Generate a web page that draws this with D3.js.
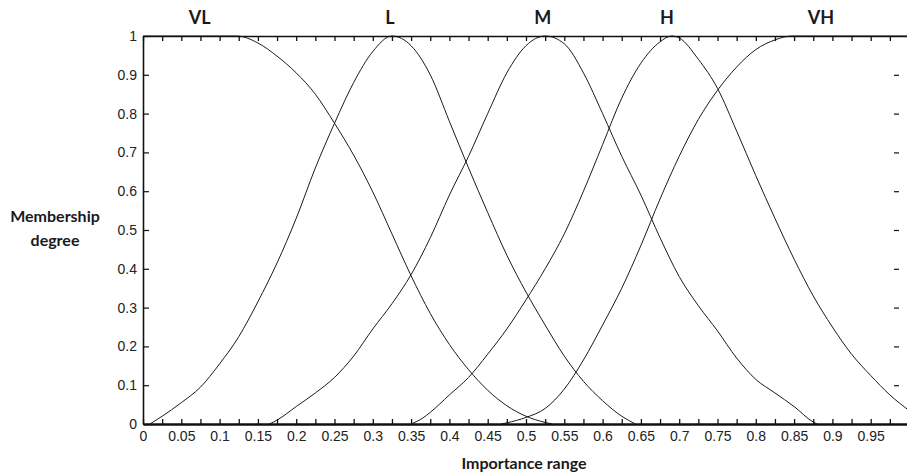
<!DOCTYPE html>
<html>
<head>
<meta charset="utf-8">
<script src="https://cdn.jsdelivr.net/npm/d3@7"></script>
<style>
  body { margin: 0; background: #fff; }
  svg { display: block; }
</style>
</head>
<body>
<svg id="chart" width="907" height="476"></svg>
<script>
// ---------------- DATA ----------------
const termNames  = ["VL", "L", "M", "H", "VH"];
const termLabelX = [0.074, 0.3225, 0.522, 0.684, 0.885];

const VL = [[0,1],[0.05,1],[0.1,1],[0.1225,1],[0.15,0.982],[0.175,0.948],[0.2,0.905],[0.225,0.85],
  [0.25,0.775],[0.275,0.693],[0.3,0.598],[0.325,0.49],[0.35,0.382],[0.375,0.285],[0.4,0.205],
  [0.425,0.14],[0.45,0.087],[0.475,0.047],[0.5,0.02],[0.525,0.004],[0.534,0]];
const L = [[0.009,0],[0.025,0.02],[0.05,0.055],[0.075,0.095],[0.1,0.155],[0.125,0.225],[0.15,0.315],
  [0.175,0.415],[0.2,0.53],[0.225,0.66],[0.25,0.775],[0.275,0.88],[0.3,0.96],[0.325,1],
  [0.35,0.975],[0.375,0.9],[0.4,0.78],[0.425,0.66],[0.45,0.545],[0.475,0.435],[0.5,0.34],
  [0.525,0.255],[0.55,0.175],[0.575,0.11],[0.6,0.06],[0.625,0.02],[0.643,0]];
const M = [[0.165,0],[0.175,0.01],[0.2,0.045],[0.225,0.08],[0.25,0.12],[0.275,0.175],[0.3,0.245],
  [0.325,0.31],[0.35,0.385],[0.375,0.48],[0.4,0.59],[0.425,0.69],[0.45,0.8],[0.475,0.905],[0.5,0.975],
  [0.525,1],[0.55,0.98],[0.575,0.905],[0.6,0.8],[0.625,0.69],[0.65,0.59],[0.675,0.48],[0.7,0.38],
  [0.725,0.305],[0.75,0.24],[0.775,0.17],[0.8,0.115],[0.825,0.08],[0.85,0.045],[0.875,0.005],[0.88,0]];
const H = [[0.35,0],[0.365,0.015],[0.375,0.03],[0.4,0.075],[0.425,0.12],[0.45,0.18],[0.475,0.245],
  [0.5,0.32],[0.525,0.4],[0.55,0.49],[0.575,0.6],[0.6,0.72],[0.625,0.84],[0.65,0.93],[0.675,0.985],
  [0.69,1],[0.7,0.995],[0.725,0.94],[0.75,0.865],[0.775,0.755],[0.8,0.64],[0.825,0.53],[0.85,0.425],
  [0.875,0.33],[0.9,0.25],[0.925,0.18],[0.95,0.125],[0.975,0.075],[1.0,0.035]];
const VH = [[0.468,0],[0.475,0.003],[0.5,0.017],[0.525,0.04],[0.55,0.09],[0.575,0.165],[0.6,0.255],
  [0.625,0.35],[0.65,0.46],[0.675,0.58],[0.7,0.69],[0.725,0.785],[0.75,0.86],[0.775,0.92],
  [0.8,0.965],[0.825,0.99],[0.847,1],[0.9,1],[0.95,1],[1.0,1]];

const xTickValues = [0,0.025,0.05,0.075,0.1,0.125,0.15,0.175,0.2,0.225,0.25,0.275,0.3,0.325,0.35,
  0.375,0.4,0.425,0.45,0.475,0.5,0.525,0.55,0.575,0.6,0.625,0.65,0.675,0.7,0.725,0.75,0.775,0.8,
  0.825,0.85,0.875,0.9,0.925,0.95,0.975];
const xTickLabels = ["0","","0.05","","0.1","","0.15","","0.2","","0.25","","0.3","","0.35","",
  "0.4","","0.45","","0.5","","0.55","","0.6","","0.65","","0.7","","0.75","","0.8","","0.85","",
  "0.9","","0.95",""];
const yTickValues = [0,0.1,0.2,0.3,0.4,0.5,0.6,0.7,0.8,0.9,1];
const yTickLabels = ["0","0.1","0.2","0.3","0.4","0.5","0.6","0.7","0.8","0.9","1"];
const xTitle = "Importance range";
const yTitle = ["Membership", "degree"];

// ---------------- CHART ----------------
(function () {
const svg = d3.select("#chart");
const pL = 143, pR = 909, pT = 36, pB = 424;
const x = d3.scaleLinear().domain([0, 1]).range([pL, pR]);
const y = d3.scaleLinear().domain([0, 1]).range([pB, pT]);

const tickFont = "'Liberation Sans', Arial, sans-serif";
const labFont = "Lato, 'Open Sans', sans-serif";

// curves
const line = d3.line().x(d => x(d[0])).y(d => y(d[1])).curve(d3.curveMonotoneX);
svg.append("clipPath").attr("id", "clip").append("rect")
  .attr("x", pL).attr("y", pT - 2).attr("width", pR - pL).attr("height", pB - pT + 4);
const plot = svg.append("g").attr("clip-path", "url(#clip)");
[VL, L, M, H, VH].forEach(s => {
  plot.append("path").datum(s).attr("d", line)
    .attr("fill", "none").attr("stroke", "#1a1a1a").attr("stroke-width", 1);
});

// bottom axis
const gx = svg.append("g").attr("transform", `translate(0,${pB})`)
  .call(d3.axisBottom(x).tickValues(xTickValues).tickSizeInner(-5).tickSizeOuter(0).tickPadding(7)
    .tickFormat((d, i) => xTickLabels[i]));
gx.select(".domain").attr("stroke", "#111").attr("stroke-width", 2.4);
gx.selectAll(".tick line").attr("stroke", "#111").attr("stroke-width", 1.3);
gx.selectAll(".tick text").attr("font-family", tickFont).attr("font-size", 14).attr("fill", "#222");

// top axis
const gt = svg.append("g").attr("transform", `translate(0,${pT})`)
  .call(d3.axisTop(x).tickValues(xTickValues).tickSizeInner(-5).tickSizeOuter(0).tickFormat(""));
gt.select(".domain").attr("stroke", "#111").attr("stroke-width", 1.6);
gt.selectAll(".tick line").attr("stroke", "#111").attr("stroke-width", 1.3);

// left axis
const gy = svg.append("g").attr("transform", `translate(${pL},0)`)
  .call(d3.axisLeft(y).tickValues(yTickValues).tickSizeInner(-6).tickSizeOuter(0).tickPadding(6)
    .tickFormat((d, i) => yTickLabels[i]));
gy.select(".domain").attr("stroke", "#111").attr("stroke-width", 1.6);
gy.selectAll(".tick line").attr("stroke", "#111").attr("stroke-width", 1.2);
gy.selectAll(".tick text").attr("font-family", tickFont).attr("font-size", 14).attr("fill", "#222");

// right-side tick marks
const gr = svg.append("g").attr("transform", `translate(${pR - 10},0)`)
  .call(d3.axisLeft(y).tickValues(yTickValues.slice(1, -1)).tickSizeInner(5).tickSizeOuter(0).tickFormat(""));
gr.select(".domain").remove();
gr.selectAll(".tick line").attr("stroke", "#111").attr("stroke-width", 1.2);

// term labels
svg.append("g").selectAll("text").data(termNames).join("text")
  .attr("x", (d, i) => x(termLabelX[i])).attr("y", 24)
  .attr("text-anchor", "middle").attr("font-family", labFont).attr("font-weight", 700)
  .attr("font-size", 18).attr("fill", "#1a1a1a").text(d => d);

// axis titles
svg.append("text").attr("x", 524).attr("y", 469).attr("text-anchor", "middle")
  .attr("font-family", labFont).attr("font-weight", 700).attr("font-size", 16).attr("fill", "#1a1a1a")
  .text(xTitle);
svg.append("g").selectAll("text").data(yTitle).join("text")
  .attr("x", 55).attr("y", (d, i) => 222 + i * 24).attr("text-anchor", "middle")
  .attr("font-family", labFont).attr("font-weight", 700).attr("font-size", 16).attr("fill", "#1a1a1a")
  .text(d => d);
})();
</script>
</body>
</html>
